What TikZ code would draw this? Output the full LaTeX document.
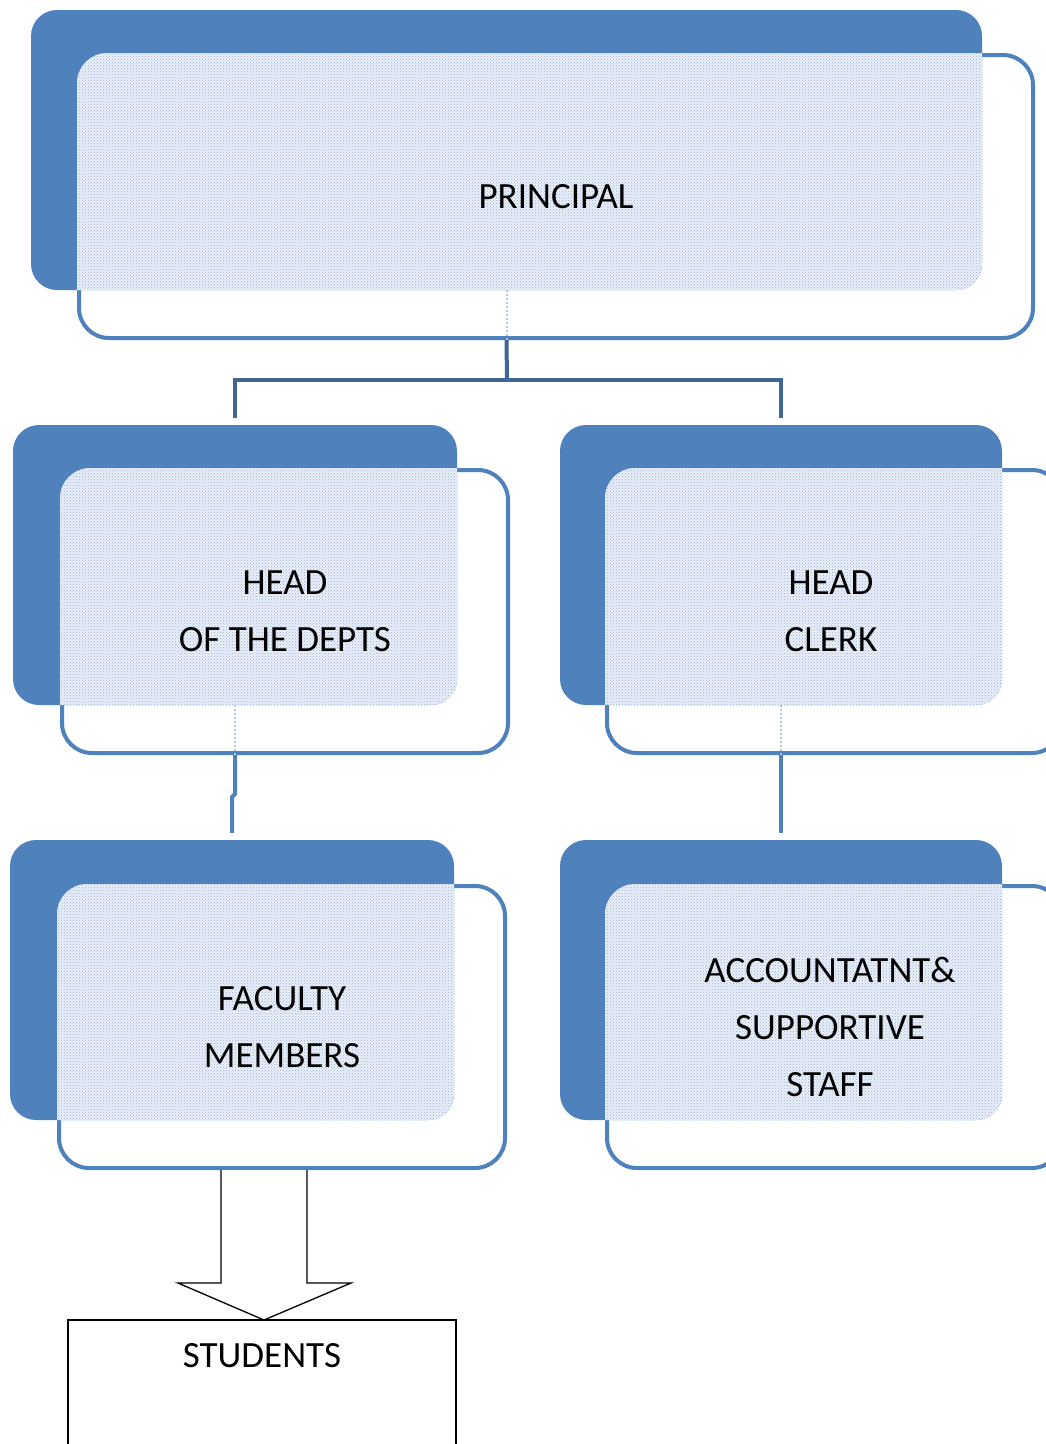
\documentclass[tikz,border=0pt]{standalone}
\usepackage{fontspec}
\setmainfont{Carlito}
\usetikzlibrary{patterns}
\definecolor{cardblue}{HTML}{4F81BD}
\definecolor{treeblue}{HTML}{3F6696}
\definecolor{lightfill}{HTML}{EBF0F8}
\definecolor{dotblue}{HTML}{94AFD9}
\definecolor{ghost}{HTML}{B3C6E3}
\tikzset{
  backbox/.style={rectangle, rounded corners=26pt, fill=cardblue, inner sep=0pt},
  frontbox/.style={rectangle, rounded corners=30pt, draw=cardblue, line width=4pt, fill=white, inner sep=0pt},
  lbl/.style={font=\fontsize{37}{57}\selectfont, align=center, inner sep=0pt, text=black},
  treeline/.style={draw=treeblue, line width=4pt},
  conn/.style={draw=cardblue, line width=4pt},
  ghostline/.style={draw=ghost, line width=2pt, dotted},
  blockarrow/.style={draw=black, line width=1.3pt, fill=white, line join=miter}
}
\newcommand\mycard[9]{%
  % #1 name, #2 #3 back x1 y1, #4 #5 back x2 y2, #6 #7 front x1 y1, #8 #9 front x2 y2
  \node[frontbox, minimum width={#8-#6}, minimum height={#9-#7}] (#1f) at ({(#6+#8)/2},{(#7+#9)/2}) {};
  \node[backbox, minimum width={#4-#2}, minimum height={#5-#3}] (#1b) at ({(#2+#4)/2},{(#3+#5)/2}) {};
  \begin{scope}
    \clip[rounded corners=26pt] (#2,#3) rectangle (#4,#5);
    \fill[lightfill, rounded corners=30pt] (#6-2,#7-2) rectangle (#8+2,#9+2);
    \fill[pattern=crosshatch dots, pattern color=dotblue, rounded corners=30pt] (#6-2,#7-2) rectangle (#8+2,#9+2);
  \end{scope}
}
\begin{document}
\begin{tikzpicture}[x=1pt,y=-1pt]
\useasboundingbox (0,0) rectangle (1046,1444);
\clip (0,0) rectangle (1046,1444);
\fill[white] (0,0) rectangle (1046,1444);

\mycard{p}{31}{10}{982}{290}{79}{55}{1033}{338}
\mycard{h}{13}{425}{457}{705}{62}{470}{508}{753}
\mycard{c}{560}{425}{1002}{705}{607}{470}{1062}{753}
\mycard{fa}{10}{840}{454}{1120}{59}{886}{505}{1168}
\mycard{ac}{560}{840}{1002}{1120}{607}{886}{1062}{1168}

\node[lbl] (tp) at (556,197) {PRINCIPAL};
\node[lbl] (th) at (285,611) {HEAD\\OF THE DEPTS};
\node[lbl] (tc) at (831,611) {HEAD\\CLERK};
\node[lbl] (tf) at (282,1027) {FACULTY\\MEMBERS};
\node[lbl] (ta) at (830,1027) {ACCOUNTATNT\&\\SUPPORTIVE\\STAFF};

% ghost dotted stubs
\draw[ghostline] (pb.south) -- (pb.south |- pf.south);
\draw[ghostline] (hb.south) -- (hb.south |- hf.south);
\draw[ghostline] (cb.south) -- (cb.south |- cf.south);

% tree connector
\coordinate (j) at (507,380);
\draw[treeline] (pb.south |- pf.south) -- (j);
\draw[treeline] ([yshift=7pt]hb.north) |- (j) -| ([yshift=7pt]cb.north);

% lower connectors
\coordinate (k1) at (235,794);
\coordinate (k2) at (232,797);
\draw[conn] (hb.south |- hf.south) -- (k1) -- (k2) -- ([yshift=7pt]fab.north);
\draw[conn] (cb.south |- cf.south) -- ([yshift=7pt]acb.north);

% students
\node[draw=black, line width=1.3pt, minimum width=388, minimum height=160, inner sep=0pt] (sb) at (262,1400) {};
\node[lbl] (ts) at (262,1356) {STUDENTS};

% block arrow
\coordinate (tip) at (264,1320);
\draw[blockarrow] (221,1170) -- (221,1283) -- (178,1283) -- (tip) -- (351,1283) -- (307,1283) -- (307,1170);
\end{tikzpicture}
\end{document}
